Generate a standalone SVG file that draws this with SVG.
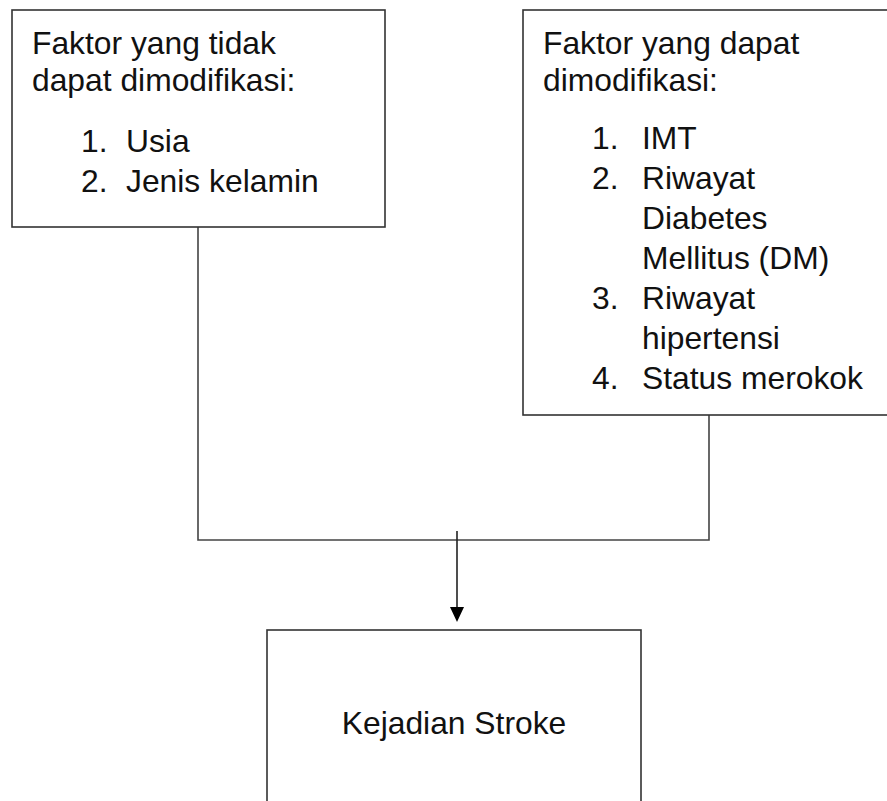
<svg xmlns="http://www.w3.org/2000/svg" width="887" height="801" viewBox="0 0 887 801">
<style>
.box{fill:#fff;stroke:#333;stroke-width:1.6}
.t{font-family:"Liberation Sans",Arial,sans-serif;font-size:31.8px;fill:#111}
.c{fill:none;stroke:#444;stroke-width:1.6}
</style>
<rect width="887" height="801" fill="#fff"/>
<g id="connectors">
<path class="c" d="M198,227 V540 H709 V415"/>
<line x1="457" y1="531" x2="457" y2="608" stroke="#222" stroke-width="1.6"/>
<path d="M450,607 L464,607 L457,622 Z" fill="#000"/>
</g>
<g id="node-tidak">
<rect class="box" x="12" y="10" width="373" height="217"/>
<text class="t" x="32" y="54">Faktor yang tidak</text>
<text class="t" x="32" y="91">dapat dimodifikasi:</text>
<text class="t" x="81" y="152">1.</text>
<text class="t" x="126" y="152">Usia</text>
<text class="t" x="81" y="192">2.</text>
<text class="t" x="126" y="192">Jenis kelamin</text>
</g>
<g id="node-dapat">
<rect class="box" x="523" y="10" width="373" height="405"/>
<text class="t" x="543" y="54">Faktor yang dapat</text>
<text class="t" x="543" y="91">dimodifikasi:</text>
<text class="t" x="592" y="149">1.</text>
<text class="t" x="642" y="149">IMT</text>
<text class="t" x="592" y="189">2.</text>
<text class="t" x="642" y="189">Riwayat</text>
<text class="t" x="642" y="229">Diabetes</text>
<text class="t" x="642" y="269">Mellitus (DM)</text>
<text class="t" x="592" y="309">3.</text>
<text class="t" x="642" y="309">Riwayat</text>
<text class="t" x="642" y="349">hipertensi</text>
<text class="t" x="592" y="389">4.</text>
<text class="t" x="642" y="389">Status merokok</text>
</g>
<g id="node-stroke">
<rect class="box" x="267" y="630" width="374" height="200"/>
<text class="t" x="454" y="734" text-anchor="middle">Kejadian Stroke</text>
</g>
</svg>
